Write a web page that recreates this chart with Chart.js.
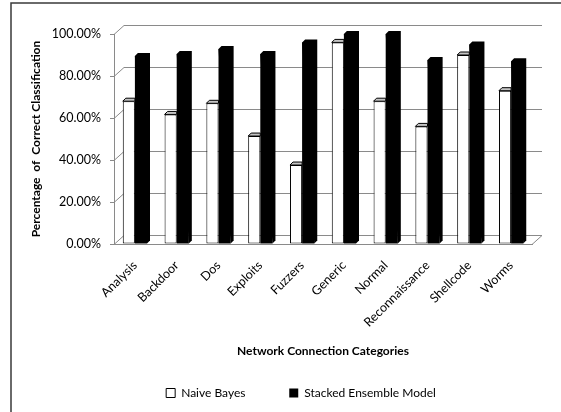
<!DOCTYPE html>
<html>
<head>
<meta charset="utf-8">
<script src="https://cdn.jsdelivr.net/npm/chart.js@4/dist/chart.umd.min.js"></script>
<style>
  html, body { margin: 0; padding: 0; background: #fff; }
  #wrap { width: 561px; height: 412px; position: relative; }
</style>
</head>
<body>
<div id="wrap"><canvas id="c" width="561" height="412"></canvas></div>
<script>
// Categories and per-class accuracy (%) of the two classifiers
const categories = ['Analysis', 'Backdoor', 'Dos', 'Exploits', 'Fuzzers', 'Generic', 'Normal', 'Reconnaissance', 'Shellcode', 'Worms'];
const naiveBayes = [68.0, 61.7, 67.0, 51.4, 37.6, 96.0, 68.0, 56.0, 90.0, 73.0];
const stackedEnsemble = [89.5, 90.5, 92.8, 90.5, 96.0, 100.0, 100.0, 87.6, 95.0, 87.0];
const yTicks = [0, 20, 40, 60, 80, 100];

const FONT = 'Lato, "Liberation Sans", sans-serif';
const WALL_DX = 10, WALL_DY = 9;   // depth of the walls/floor
const BAR_D = 3;                   // depth of each column
const LINE = '#8a8a8a';

// Outer frame and white background
const framePlugin = {
  id: 'frame',
  beforeDraw(chart) {
    const ctx = chart.ctx;
    ctx.save();
    ctx.fillStyle = '#fff';
    ctx.fillRect(0, 0, chart.width, chart.height);
    ctx.strokeStyle = '#3a3a3a';
    ctx.lineWidth = 1.5;
    ctx.beginPath();
    ctx.moveTo(11, chart.height);
    ctx.lineTo(11, 3);
    ctx.lineTo(chart.width, 3);
    ctx.stroke();
    ctx.restore();
  }
};

// Back wall gridlines, side wall and floor edges; column tops and sides
const wallsPlugin = {
  id: 'walls',
  beforeDatasetsDraw(chart) {
    const ctx = chart.ctx;
    const ys = chart.scales.y;
    const {left, right} = chart.chartArea;
    ctx.save();
    ctx.strokeStyle = LINE;
    ctx.lineWidth = 1;
    ys.ticks.forEach(t => {
      const y = Math.round(ys.getPixelForValue(t.value)) + 0.5;
      ctx.beginPath();
      ctx.moveTo(left, y);
      ctx.lineTo(left + WALL_DX, y - WALL_DY);
      ctx.lineTo(right + WALL_DX, y - WALL_DY);
      ctx.stroke();
    });
    const base = Math.round(ys.getPixelForValue(0)) + 0.5;
    ctx.beginPath();
    ctx.moveTo(right, base);
    ctx.lineTo(right + WALL_DX, base - WALL_DY);
    ctx.stroke();
    ctx.restore();
  },
  afterDatasetsDraw(chart) {
    const ctx = chart.ctx;
    ctx.save();
    ctx.lineJoin = 'round';
    chart.data.datasets.forEach((ds, i) => {
      const meta = chart.getDatasetMeta(i);
      meta.data.forEach(bar => {
        const {x, y, base, width} = bar.getProps(['x', 'y', 'base', 'width'], true);
        const l = x - width / 2, r = x + width / 2;
        if (i === 1) {
          ctx.fillStyle = '#000';
          ctx.beginPath();
          ctx.moveTo(l, y);
          ctx.lineTo(l + BAR_D, y - BAR_D);
          ctx.lineTo(r + BAR_D, y - BAR_D);
          ctx.lineTo(r + BAR_D, base - BAR_D);
          ctx.lineTo(r, base);
          ctx.closePath();
          ctx.fill();
        } else {
          ctx.fillStyle = '#c4c4c4';
          ctx.strokeStyle = '#000';
          ctx.lineWidth = 1;
          ctx.beginPath();
          ctx.moveTo(l, y);
          ctx.lineTo(l + BAR_D, y - BAR_D);
          ctx.lineTo(r, y - BAR_D);
          ctx.lineTo(r, y);
          ctx.closePath();
          ctx.fill();
          ctx.stroke();
        }
      });
    });
    ctx.restore();
  }
};

// Keep the legend centred under the plot
const legendShift = {
  id: 'legendShift',
  afterLayout(chart) {
    const lg = chart.legend;
    if (!lg) return;
    const ca = chart.chartArea;
    const mid = (ca.left + ca.right) / 2 - 22;
    const w = lg.right - lg.left;
    lg.left = mid - w / 2;
    lg.right = mid + w / 2;
    if (lg.adjustHitBoxes) lg.adjustHitBoxes();
  }
};

new Chart(document.getElementById('c'), {
  type: 'bar',
  data: {
    labels: categories,
    datasets: [
      {
        label: 'Naive Bayes',
        data: naiveBayes,
        backgroundColor: '#fff',
        borderColor: '#000',
        borderWidth: 1,
        borderSkipped: false
      },
      {
        label: 'Stacked Ensemble Model',
        data: stackedEnsemble,
        backgroundColor: '#000',
        borderColor: '#000',
        borderWidth: 0
      }
    ]
  },
  plugins: [framePlugin, wallsPlugin, legendShift],
  options: {
    responsive: false,
    animation: false,
    events: [],
    layout: { padding: { left: 12, right: 29, top: 34, bottom: 3 } },
    datasets: {
      bar: { categoryPercentage: 0.58, barPercentage: 1.0 }
    },
    plugins: {
      tooltip: { enabled: false },
      legend: {
        position: 'bottom',
        labels: {
          font: { family: FONT, size: 12 },
          color: '#000',
          boxWidth: 9,
          boxHeight: 9,
          padding: 10,
          generateLabels(chart) {
            const items = Chart.defaults.plugins.legend.labels.generateLabels(chart);
            // wider gap after the first entry
            items.forEach((it, k) => { if (k === 0) it.text = it.text + '           '; });
            return items;
          }
        }
      }
    },
    scales: {
      x: {
        afterFit(s) { s.height = 133; },
        grid: { display: false },
        border: { display: true, color: LINE, width: 1 },
        ticks: {
          font: { family: FONT, size: 12.5 },
          color: '#000',
          minRotation: 45,
          maxRotation: 45,
          padding: 6
        },
        title: {
          display: true,
          text: 'Network Connection Categories',
          font: { family: FONT, size: 12, weight: 'bold' },
          color: '#000',
          padding: { top: 0, bottom: 19 }
        }
      },
      y: {
        min: 0,
        max: 100,
        afterFit(s) { s.width = 102; },
        afterBuildTicks(s) { s.ticks = yTicks.map(v => ({ value: v })); },
        grid: {
          display: true,
          drawOnChartArea: false,
          drawTicks: true,
          tickLength: 4,
          color: LINE
        },
        border: { display: true, color: LINE, width: 1 },
        ticks: {
          font: { family: FONT, size: 12.5 },
          color: '#000',
          padding: 9,
          callback: v => Number(v).toFixed(2) + '%'
        },
        title: {
          display: true,
          text: 'Percentage  of  Correct Classification',
          font: { family: FONT, size: 12, weight: 'bold' },
          color: '#000',
          padding: { top: 17, bottom: 0 }
        }
      }
    }
  }
});
</script>
</body>
</html>
